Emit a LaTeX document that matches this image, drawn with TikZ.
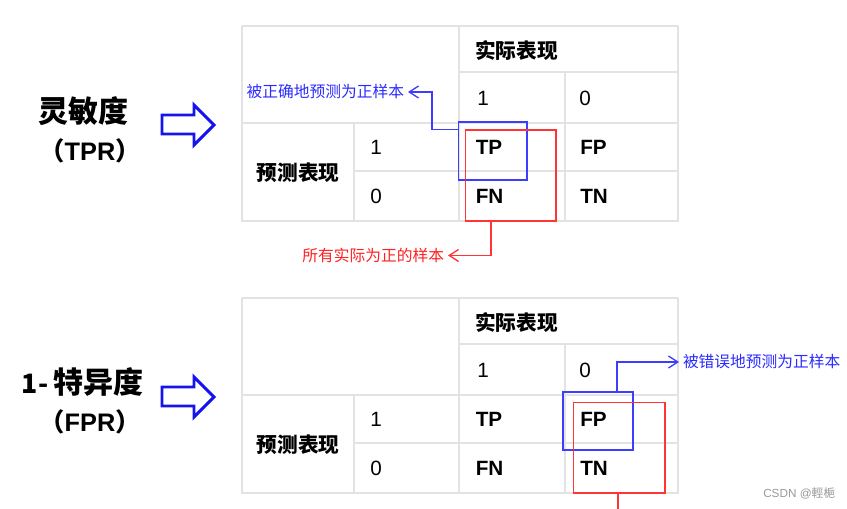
\documentclass[tikz,border=0pt]{standalone}
\usepackage{fontspec}
\setmainfont{Liberation Sans}
\newfontfamily\cjk{Noto Sans CJK SC}
\usetikzlibrary{arrows.meta,fit}
\definecolor{gridc}{HTML}{E3E3E3}
\definecolor{bbox}{HTML}{3D3DFF}
\definecolor{rbox}{HTML}{FF3535}
\definecolor{btxt}{HTML}{2B2BFF}
\definecolor{rtxt}{HTML}{FF2020}
\definecolor{harrow}{HTML}{1414F0}
\definecolor{wm}{HTML}{9A9A9A}
\tikzset{
  gridline/.style={draw=gridc, line width=1.5pt},
  celltxt/.style={anchor=west, inner sep=0pt, font=\fontsize{15.5}{18}\selectfont},
  cellbold/.style={anchor=west, inner sep=0pt, font=\fontsize{15.5}{18}\selectfont\bfseries},
  headtxt/.style={inner sep=0pt, font=\cjk\bfseries\fontsize{15.5}{18}\selectfont},
  bluebox/.style={draw=bbox, line width=1pt, inner sep=0pt},
  redbox/.style={draw=rbox, line width=1pt, inner sep=0pt},
  blink/.style={draw=bbox, line width=1pt, -{Straight Barb[length=7pt,width=9pt]}},
  rlink/.style={draw=rbox, line width=1pt, -{Straight Barb[length=7pt,width=9pt]}},
  blabel/.style={inner sep=0pt, outer sep=3pt, text=btxt, font=\cjk\fontsize{11.8}{14}\selectfont},
  rlabel/.style={inner sep=0pt, outer sep=3pt, text=rtxt, font=\cjk\fontsize{11.8}{14}\selectfont},
  bigcjk/.style={inner sep=0pt, font=\cjk\bfseries\fontsize{22.5}{26}\selectfont},
  hollow/.style={draw=harrow, line width=2.2pt, fill=white, line join=miter},
}
\begin{document}
\begin{tikzpicture}[x=0.75pt,y=-0.75pt]
\useasboundingbox (0,0) rectangle (847,509);
\fill[white] (0,0) rectangle (847,509);

\foreach \dy/\t in {0/a,272/b}{
  \begin{scope}[shift={(0,\dy)}]
    \draw[gridline] (242,26) rectangle (678,221);
    \draw[gridline] (459,26) -- (459,221);
    \draw[gridline] (459,72) -- (678,72);
    \draw[gridline] (565,72) -- (565,221);
    \draw[gridline] (242,123) -- (678,123);
    \draw[gridline] (354,123) -- (354,221);
    \draw[gridline] (354,171) -- (678,171);
    \node[headtxt, anchor=west] (act\t) at (475,51) {实际表现};
    \node[headtxt] (pred\t) at (298,173) {预测表现};
    \node[celltxt] (c1\t) at (477,98.5) {1};
    \node[celltxt] (c0\t) at (579,98.5) {0};
    \node[celltxt] (r1\t) at (370,147.5) {1};
    \node[celltxt] (r0\t) at (370,196) {0};
    \node[cellbold] (tp\t) at (475.5,147.5) {TP};
    \node[cellbold] (fp\t) at (580,147.5) {FP};
    \node[cellbold] (fn\t) at (475.5,196) {FN};
    \node[cellbold] (tn\t) at (580,196) {TN};
    \draw[hollow] (162,115) -- (194,115) -- (194,105) -- (214,125) -- (194,145) -- (194,134) -- (162,134) -- cycle;
  \end{scope}
}

% left titles
\node[bigcjk] (sens) at (83.5,111) {灵敏度};
\node[inner sep=0pt, font=\fontsize{19}{22}\selectfont\bfseries] (tpr) at (90,151) {{\cjk （}TPR{\cjk ）}};
\node[bigcjk] (spec) at (82.5,382) {{\fontsize{20}{24}\selectfont\bfseries 1-}\,特异度};
\node[inner sep=0pt, font=\fontsize{19}{22}\selectfont\bfseries] (fpr) at (90,422) {{\cjk （}FPR{\cjk ）}};

% top annotations
\node[bluebox, fit={(458.5,122) (527,180)}] (bb1) {};
\node[redbox, fit={(465.5,130) (556,221)}] (rb1) {};
\node[blabel, anchor=east] (lb1) at (408,92) {被正确地预测为正样本};
\node[rlabel, anchor=east] (lr1) at (448,255.5) {所有实际为正的样本};
\coordinate (bs1) at (458.5,129.5);
\coordinate (rs1) at (491,221);
\draw[blink] (bs1) -- (432,129.5) |- (lb1.east);
\draw[rlink] (rs1) |- (lr1.east);

% bottom annotations
\node[bluebox, fit={(563,392) (633,450)}] (bb2) {};
\node[redbox, fit={(573.5,402.5) (665,493)}] (rb2) {};
\node[blabel, anchor=west] (lb2) at (679,362) {被错误地预测为正样本};
\coordinate (bs2) at (617,392);
\coordinate (rs2) at (618,493);
\coordinate (re2) at (618,512);
\draw[blink] (bs2) |- (lb2.west);
\draw[draw=rbox, line width=1pt] (rs2) -- (re2);

% watermark
\node[inner sep=0pt, anchor=west, text=wm, font=\fontsize{8.8}{10}\selectfont] (wmk) at (763,493) {CSDN @{\cjk 輕梔}};
\end{tikzpicture}
\end{document}
